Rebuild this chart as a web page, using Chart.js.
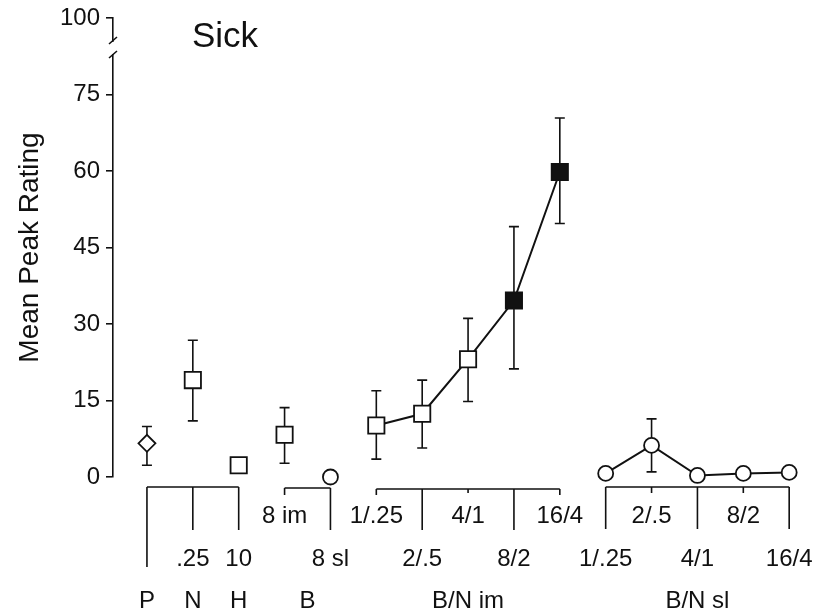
<!DOCTYPE html>
<html>
<head>
<meta charset="utf-8">
<script src="https://cdn.jsdelivr.net/npm/chart.js@4/dist/chart.umd.min.js"></script>
<style>
  html, body { margin: 0; padding: 0; background: #fff; }
  #wrap { width: 819px; height: 614px; position: relative; }
</style>
</head>
<body>
<div id="wrap"><canvas id="sickChart"></canvas></div>
<script>
// ── DATA ──
const categories = ['P', 'N .25', 'H 10', 'B 8 im', 'B 8 sl',
    'B/N im 1/.25', 'B/N im 2/.5', 'B/N im 4/1', 'B/N im 8/2', 'B/N im 16/4',
    'B/N sl 1/.25', 'B/N sl 2/.5', 'B/N sl 4/1', 'B/N sl 8/2', 'B/N sl 16/4'];
const doseLabels = ['', '.25', '10', '8 im', '8 sl',
    '1/.25', '2/.5', '4/1', '8/2', '16/4',
    '1/.25', '2/.5', '4/1', '8/2', '16/4'];
const drugLabels = ['P', 'N', 'H', 'B', 'B/N im', 'B/N sl'];
const means   = [6.6, 19.0, 2.3, 8.3, 0, 10.1, 12.4, 23.1, 34.6, 59.8, 0.7, 6.2, 0.3, 0.7, 0.9];
const errHigh = [9.9, 26.8, null, 13.6, null, 16.9, 19.0, 31.1, 49.1, 70.4, null, 11.4, null, null, null];
const errLow  = [2.3, 11.0, null, 2.7, null, 3.5, 5.7, 14.8, 21.2, 49.7, null, 1.0, null, null, null];
const yTickValues = [0, 15, 30, 45, 60, 75, 90];
const yTickLabels = ['0', '15', '30', '45', '60', '75', '100'];
const chartTitle = 'Sick';
const yTitle = 'Mean Peak Rating';

const FONT = "'Liberation Sans', Arial, sans-serif";
const pts = (from, to) => means.slice(from, to).map((v, i) => ({ x: from + i, y: v }));

// bracket layout under the plot
const brackets = [
    { from: 0, to: 2, bar: 10, ticks: [90, 53, 53], rows: [0, 2, 2] },
    { from: 3, to: 4, bar: 11, ticks: [18, 53], rows: [1, 2] },
    { from: 5, to: 9, bar: 12, ticks: [18, 53, 16, 53, 18], rows: [1, 2, 1, 2, 1] },
    { from: 10, to: 14, bar: 10, ticks: [52, 16, 52, 16, 52], rows: [2, 1, 2, 1, 2] },
];
const drugPos = [0, 1, 2, 3.5, 7, 12];

const decorPlugin = {
    id: 'decor',
    beforeDatasetsDraw(chart) {
        const { ctx, scales: { x, y } } = chart;
        ctx.save();
        ctx.strokeStyle = '#111';
        ctx.lineWidth = 1.6;
        means.forEach((m, i) => {
            if (errHigh[i] == null) return;
            const px = x.getPixelForValue(i);
            const top = y.getPixelForValue(errHigh[i]);
            const bot = y.getPixelForValue(errLow[i]);
            ctx.beginPath();
            ctx.moveTo(px, top); ctx.lineTo(px, bot);
            ctx.moveTo(px - 5, top); ctx.lineTo(px + 5, top);
            ctx.moveTo(px - 5, bot); ctx.lineTo(px + 5, bot);
            ctx.stroke();
        });
        ctx.restore();
    },
    afterDraw(chart) {
        const { ctx, chartArea, scales: { x, y } } = chart;
        const base = y.getPixelForValue(0);
        ctx.save();
        // axis break
        const ax = chartArea.left;
        ctx.fillStyle = '#fff';
        ctx.fillRect(ax - 3, 42, 6, 12);
        ctx.strokeStyle = '#111';
        ctx.lineWidth = 1.6;
        ctx.beginPath();
        ctx.moveTo(ax - 4, 44); ctx.lineTo(ax + 4, 37);
        ctx.moveTo(ax - 4, 58); ctx.lineTo(ax + 4, 51);
        ctx.stroke();

        // title
        ctx.fillStyle = '#111';
        ctx.font = '35px ' + FONT;
        ctx.textAlign = 'left';
        ctx.textBaseline = 'alphabetic';
        ctx.fillText(chartTitle, 192, 47);

        // brackets
        ctx.lineWidth = 1.6;
        ctx.font = '24px ' + FONT;
        ctx.textAlign = 'center';
        ctx.textBaseline = 'middle';
        const rowY = [0, base + 39, base + 82];
        brackets.forEach(b => {
            const x0 = x.getPixelForValue(b.from), x1 = x.getPixelForValue(b.to);
            const by = base + b.bar;
            ctx.beginPath();
            ctx.moveTo(x0, by); ctx.lineTo(x1, by);
            b.ticks.forEach((len, k) => {
                const px = x.getPixelForValue(b.from + k);
                ctx.moveTo(px, by); ctx.lineTo(px, base + len);
            });
            ctx.stroke();
            b.rows.forEach((r, k) => {
                const idx = b.from + k;
                if (r && doseLabels[idx]) ctx.fillText(doseLabels[idx], x.getPixelForValue(idx), rowY[r]);
            });
        });
        drugLabels.forEach((d, i) => {
            ctx.fillText(d, x.getPixelForValue(drugPos[i]), base + 124);
        });
        ctx.restore();
    }
};

const openPt = { pointBackgroundColor: '#fff', pointBorderColor: '#111', pointBorderWidth: 1.8, borderColor: '#111', borderWidth: 2 };

new Chart(document.getElementById('sickChart'), {
    type: 'scatter',
    data: {
        datasets: [
            { ...openPt, data: pts(0, 1), pointStyle: 'rectRot', pointRadius: 8.5 },
            { ...openPt, data: pts(1, 4), pointStyle: 'rect', pointRadius: 11.5 },
            { ...openPt, data: pts(4, 5), pointStyle: 'circle', pointRadius: 7.5 },
            { ...openPt, data: pts(5, 10), pointStyle: 'rect', pointRadius: 11.5, showLine: true,
              pointBackgroundColor: ['#fff', '#fff', '#fff', '#111', '#111'] },
            { ...openPt, data: pts(10, 15), pointStyle: 'circle', pointRadius: 7.5, showLine: true },
        ]
    },
    options: {
        responsive: true, maintainAspectRatio: false,
        animation: false,
        clip: false,
        layout: { padding: { top: 15, bottom: 137, right: 6, left: 0 } },
        plugins: { legend: { display: false }, tooltip: { enabled: false } },
        elements: { point: { hoverRadius: 8 } },
        scales: {
            x: { type: 'linear', min: -0.74, max: 14.36, display: false },
            y: {
                min: 0, max: 90,
                afterFit(scale) { scale.width = 113; },
                afterBuildTicks(scale) { scale.ticks = yTickValues.map(v => ({ value: v })); },
                grid: { drawOnChartArea: false, drawTicks: true, tickLength: 7, color: '#111', lineWidth: 1.6 },
                border: { display: true, color: '#111', width: 1.6 },
                ticks: {
                    color: '#111', padding: 6, font: { family: FONT, size: 24, lineHeight: 1 },
                    callback: (v) => yTickLabels[yTickValues.indexOf(v)]
                },
                title: { display: true, text: yTitle, color: '#111', font: { family: FONT, size: 28 }, padding: { top: 13 } }
            }
        }
    },
    plugins: [decorPlugin]
});
</script>
</body>
</html>
